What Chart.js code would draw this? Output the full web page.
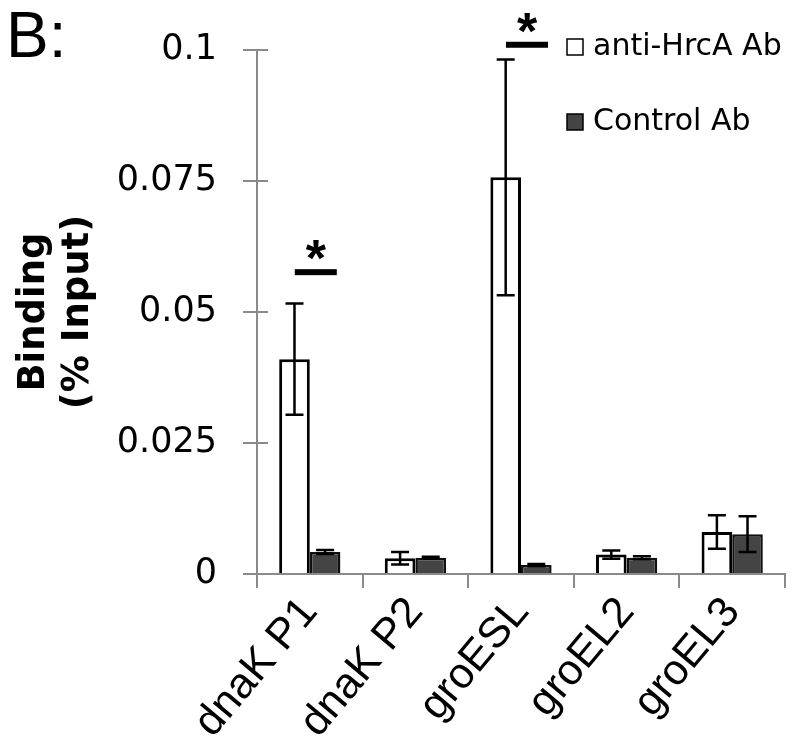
<!DOCTYPE html>
<html>
<head>
<title>HrcA ChIP binding</title>
<script src="https://cdn.jsdelivr.net/npm/chart.js"></script>
<style>
    body {
        margin: 0;
        background: #fff;
    }
    #wrap {
        width: 800px;
        height: 750px;
    }
</style>
</head>
<body>
<div id="wrap"><canvas id="chart" width="800" height="750"></canvas></div>
<script>
    // values
    const categories = ['dnaK P1', 'dnaK P2', 'groESL', 'groEL2', 'groEL3'];
    const antiHrcA = [0.0410, 0.0030, 0.0757, 0.0037, 0.0080];
    const antiHrcAErr = [0.0106, 0.0012, 0.0225, 0.0008, 0.0032];
    const controlAb = [0.0042, 0.0031, 0.0017, 0.0031, 0.0076];
    const controlAbErr = [0.0004, 0.0002, 0.0002, 0.0003, 0.0034];
    const yTicks = [0, 0.025, 0.05, 0.075, 0.1];
    const yTickLabels = ['0', '0.025', '0.05', '0.075', '0.1'];
    // significance bars (category, height of the bar line)
    const sigCategories = ['dnaK P1', 'groESL'];
    const sigLevels = [0.0576, 0.101];
    const sigMarks = ['*', '*'];

    const axisGrey = '#8a8a8a';

    const extras = {
        id: 'extras',
        afterDatasetsDraw(chart) {
            const ctx = chart.ctx;
            const y = chart.scales.y;
            const x = chart.scales.x;
            ctx.save();

            // inner half of the y ticks (they cross the axis)
            ctx.strokeStyle = axisGrey;
            ctx.lineWidth = 2;
            yTicks.forEach(v => {
                const py = y.getPixelForValue(v);
                ctx.beginPath();
                ctx.moveTo(chart.chartArea.left, py);
                ctx.lineTo(chart.chartArea.left + 11, py);
                ctx.stroke();
            });

            // error bars
            ctx.strokeStyle = '#000';
            ctx.lineWidth = 2.5;
            chart.data.datasets.forEach((ds, di) => {
                chart.getDatasetMeta(di).data.forEach((bar, i) => {
                    const hi = y.getPixelForValue(ds.data[i] + ds.errors[i]);
                    const lo = y.getPixelForValue(ds.data[i] - ds.errors[i]);
                    ctx.beginPath();
                    ctx.moveTo(bar.x, hi);
                    ctx.lineTo(bar.x, lo);
                    ctx.moveTo(bar.x - 9, hi);
                    ctx.lineTo(bar.x + 9, hi);
                    ctx.moveTo(bar.x - 9, lo);
                    ctx.lineTo(bar.x + 9, lo);
                    ctx.stroke();
                });
            });

            // significance lines and stars
            ctx.fillStyle = '#000';
            ctx.textAlign = 'center';
            ctx.textBaseline = 'alphabetic';
            ctx.font = 'bold 52px "Liberation Sans"';
            sigCategories.forEach((c, i) => {
                const cx = x.getPixelForValue(categories.indexOf(c)) + 6;
                const py = y.getPixelForValue(sigLevels[i]);
                ctx.fillRect(cx - 21, py - 3, 42, 6);
                ctx.fillText(sigMarks[i], cx, py + 4);
            });

            // legend
            ctx.textAlign = 'left';
            ctx.textBaseline = 'middle';
            ctx.font = '30px "DejaVu Sans"';
            const legendY = [47, 122];
            chart.data.datasets.forEach((ds, di) => {
                const ly = legendY[di];
                ctx.fillStyle = ds.backgroundColor;
                ctx.fillRect(567, ly - 8, 16, 16);
                ctx.strokeStyle = '#000';
                ctx.lineWidth = 1.5;
                ctx.strokeRect(567, ly - 8, 16, 16);
                ctx.fillStyle = '#000';
                ctx.fillText(ds.label, 593, ly);
            });

            // panel letter
            ctx.font = '64px "Liberation Sans"';
            ctx.textBaseline = 'alphabetic';
            ctx.fillText('B:', 6, 57);
            ctx.restore();
        }
    };

    new Chart(document.getElementById('chart'), {
        type: 'bar',
        data: {
            labels: categories,
            datasets: [{
                label: 'anti-HrcA Ab',
                data: antiHrcA,
                errors: antiHrcAErr,
                backgroundColor: '#ffffff',
                borderColor: '#000000',
                borderWidth: 3,
                categoryPercentage: 0.58,
                barPercentage: 1.0
            }, {
                label: 'Control Ab',
                data: controlAb,
                errors: controlAbErr,
                backgroundColor: '#444444',
                borderColor: '#111111',
                borderWidth: 2.5,
                categoryPercentage: 0.58,
                barPercentage: 1.0
            }]
        },
        options: {
            responsive: false,
            animation: false,
            layout: {
                padding: { top: 50, right: 15, left: 0, bottom: 0 }
            },
            plugins: {
                legend: { display: false },
                tooltip: { enabled: false }
            },
            scales: {
                x: {
                    grid: {
                        drawOnChartArea: false,
                        color: axisGrey,
                        lineWidth: 2,
                        tickLength: 14,
                        offset: true
                    },
                    border: { color: axisGrey, width: 2 },
                    ticks: {
                        color: '#000',
                        font: { family: 'Liberation Sans', size: 43 },
                        minRotation: 50,
                        maxRotation: 50,
                        autoSkip: false,
                        padding: 0
                    },
                    afterFit: s => { s.height = 176; }
                },
                y: {
                    min: 0,
                    max: 0.1,
                    afterBuildTicks: s => { s.ticks = yTicks.map(v => ({ value: v })); },
                    grid: {
                        drawOnChartArea: false,
                        color: axisGrey,
                        lineWidth: 2,
                        tickLength: 14
                    },
                    border: { color: axisGrey, width: 2 },
                    ticks: {
                        color: '#000',
                        font: { family: 'DejaVu Sans', size: 35 },
                        padding: 26,
                        callback: (v, i) => yTickLabels[i]
                    },
                    title: {
                        display: true,
                        text: ['Binding', '(% Input)'],
                        color: '#000',
                        font: { family: 'DejaVu Sans', size: 37, weight: 'bold' },
                        padding: { top: 12, bottom: 0 }
                    },
                    afterFit: s => { s.width = 257; }
                }
            }
        },
        plugins: [extras]
    });
</script>
</body>
</html>
